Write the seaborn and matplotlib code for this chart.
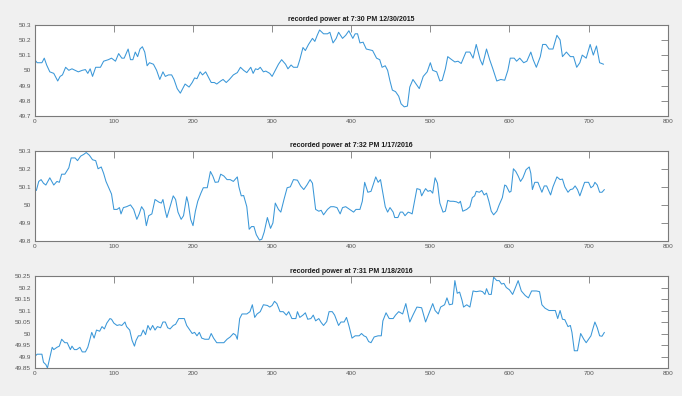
import matplotlib
matplotlib.use("Agg")
import matplotlib.pyplot as plt
import seaborn as sns
import pandas as pd

# Grid frequency samples for three recordings (sample index, Hz)
titles = [
    "recorded power at 7:30 PM 12/30/2015",
    "recorded power at 7:32 PM 1/17/2016",
    "recorded power at 7:31 PM 1/18/2016",
]

t1 = [0, 3, 9, 12, 15, 19, 24, 29, 32, 35, 39, 43, 47, 51, 55, 60, 64, 67, 70, 73,
      77, 83, 87, 93, 97, 102, 106, 110, 113, 118, 121, 124, 127, 130, 133, 136, 139, 142, 145, 150,
      154, 158, 162, 165, 169, 173, 176, 180, 184, 187, 190, 195, 199, 202, 205, 209, 212, 216, 220, 223,
      227, 230, 235, 238, 242, 246, 251, 256, 260, 264, 268, 273, 276, 279, 282, 285, 289, 292, 297, 300,
      304, 308, 312, 317, 320, 324, 327, 332, 335, 339, 342, 346, 351, 354, 357, 360, 365, 370, 373, 377,
      381, 384, 389, 393, 397, 402, 405, 408, 411, 415, 419, 423, 427, 432, 436, 439, 443, 446, 449, 452,
      456, 460, 463, 467, 471, 474, 478, 482, 486, 491, 496, 500, 503, 508, 512, 515, 519, 522, 527, 531,
      535, 539, 545, 550, 554, 558, 563, 566, 571, 575, 579, 584, 589, 594, 598, 601, 606, 609, 613, 618,
      622, 627, 630, 634, 639, 642, 646, 650, 655, 660, 664, 667, 672, 677, 681, 685, 689, 692, 697, 702,
      706, 710, 714, 719]
f1 = [50.07, 50.05, 50.05, 50.08, 50.035, 49.99, 49.98, 49.93, 49.96, 49.97, 50.02, 50.0, 50.01, 50.0, 49.99, 50.0, 50.005, 49.98, 50.01, 49.96,
      50.02, 50.02, 50.06, 50.07, 50.08, 50.06, 50.11, 50.08, 50.08, 50.14, 50.07, 50.07, 50.12, 50.09, 50.14, 50.155, 50.12, 50.03, 50.05, 50.04,
      50.0, 49.94, 49.99, 49.96, 49.97, 49.97, 49.94, 49.88, 49.85, 49.88, 49.91, 49.89, 49.92, 49.95, 49.945, 49.99, 49.97, 49.99, 49.95, 49.92,
      49.92, 49.91, 49.93, 49.94, 49.92, 49.94, 49.97, 49.985, 50.02, 50.0, 49.985, 50.02, 49.98, 50.01, 50.005, 50.02, 49.99, 49.995, 49.98, 49.96,
      50.0, 50.04, 50.07, 50.04, 50.01, 50.035, 50.02, 50.02, 50.07, 50.15, 50.13, 50.17, 50.21, 50.19, 50.23, 50.265, 50.24, 50.24, 50.25, 50.18,
      50.21, 50.25, 50.21, 50.23, 50.26, 50.21, 50.24, 50.24, 50.18, 50.185, 50.14, 50.135, 50.13, 50.08, 50.07, 50.02, 50.03, 50.0, 49.93, 49.87,
      49.86, 49.83, 49.78, 49.76, 49.765, 49.89, 49.94, 49.91, 49.88, 49.96, 49.99, 50.05, 50.0, 49.99, 49.93, 49.935, 50.01, 50.09, 50.07, 50.055,
      50.06, 50.045, 50.12, 50.12, 50.08, 50.17, 50.07, 50.035, 50.14, 50.07, 50.01, 49.93, 49.94, 49.935, 50.0, 50.08, 50.08, 50.06, 50.08, 50.05,
      50.06, 50.12, 50.07, 50.02, 50.09, 50.17, 50.17, 50.14, 50.14, 50.23, 50.2, 50.09, 50.12, 50.09, 50.09, 50.02, 50.05, 50.1, 50.08, 50.17,
      50.1, 50.16, 50.05, 50.04]

t2 = [0, 2, 5, 8, 11, 14, 19, 24, 28, 31, 34, 38, 43, 46, 51, 54, 58, 62, 65, 69,
      73, 77, 80, 84, 87, 90, 93, 97, 100, 104, 107, 109, 112, 116, 121, 125, 129, 132, 135, 138,
      141, 144, 148, 152, 157, 160, 162, 165, 167, 170, 175, 178, 181, 185, 188, 192, 194, 197, 200, 203,
      206, 210, 213, 218, 222, 225, 228, 232, 235, 239, 243, 247, 251, 256, 258, 261, 264, 268, 271, 274,
      277, 280, 284, 287, 290, 294, 298, 301, 304, 308, 311, 315, 319, 323, 327, 332, 336, 340, 344, 348,
      351, 355, 359, 362, 365, 370, 374, 378, 382, 386, 389, 393, 398, 403, 406, 411, 414, 417, 421, 425,
      431, 434, 437, 440, 443, 446, 449, 453, 455, 459, 462, 465, 468, 472, 475, 477, 480, 483, 487, 489,
      492, 494, 497, 500, 503, 506, 509, 512, 516, 519, 522, 525, 529, 533, 536, 538, 541, 546, 550, 553,
      556, 558, 562, 565, 568, 571, 574, 577, 580, 584, 587, 591, 594, 596, 600, 602, 605, 608, 611, 614,
      617, 621, 625, 627, 629, 632, 636, 641, 644, 647, 652, 655, 660, 664, 667, 670, 674, 677, 680, 683,
      686, 689, 692, 695, 700, 703, 706, 708, 711, 714, 717, 720]
f2 = [50.085, 50.08, 50.13, 50.14, 50.12, 50.11, 50.15, 50.11, 50.13, 50.125, 50.17, 50.17, 50.205, 50.26, 50.26, 50.245, 50.27, 50.28, 50.29, 50.275,
      50.25, 50.245, 50.2, 50.21, 50.175, 50.13, 50.1, 50.06, 49.975, 49.975, 49.985, 49.95, 49.985, 49.99, 50.0, 49.975, 49.92, 49.95, 49.99, 49.97,
      49.885, 49.94, 49.95, 50.03, 50.015, 50.01, 50.03, 49.965, 49.93, 49.975, 50.05, 50.03, 49.96, 49.92, 49.94, 50.045, 50.01, 49.92, 49.885, 49.965,
      50.02, 50.065, 50.095, 50.095, 50.185, 50.16, 50.125, 50.127, 50.17, 50.16, 50.14, 50.14, 50.13, 50.155, 50.1, 50.05, 50.052, 49.99, 49.865, 49.88,
      49.88, 49.835, 49.805, 49.81, 49.85, 49.93, 49.87, 49.9, 50.01, 49.975, 49.96, 50.03, 50.095, 50.1, 50.14, 50.137, 50.105, 50.085, 50.11, 50.14,
      50.12, 49.975, 49.965, 49.97, 49.945, 49.975, 49.99, 49.99, 49.985, 49.95, 49.985, 49.99, 49.975, 49.96, 49.975, 49.975, 50.02, 50.125, 50.07, 50.075,
      50.155, 50.125, 50.14, 50.065, 49.99, 49.96, 49.985, 49.96, 49.93, 49.93, 49.96, 49.96, 49.94, 49.96, 49.955, 49.95, 50.02, 50.09, 50.085, 50.05,
      50.075, 50.09, 50.075, 50.08, 50.065, 50.15, 50.12, 50.01, 49.96, 49.965, 50.025, 50.02, 50.02, 50.017, 50.01, 50.02, 49.965, 49.975, 49.99, 50.04,
      50.05, 50.075, 50.07, 50.08, 50.055, 50.065, 50.02, 49.965, 49.945, 49.965, 50.0, 50.04, 50.11, 50.105, 50.07, 50.075, 50.2, 50.185, 50.16, 50.13,
      50.15, 50.195, 50.21, 50.175, 50.085, 50.125, 50.125, 50.07, 50.105, 50.105, 50.055, 50.1, 50.155, 50.14, 50.143, 50.1, 50.07, 50.085, 50.088, 50.105,
      50.085, 50.05, 50.088, 50.125, 50.125, 50.095, 50.105, 50.125, 50.11, 50.07, 50.07, 50.085]

t3 = [0, 3, 9, 11, 14, 16, 19, 22, 24, 28, 31, 34, 38, 41, 45, 47, 50, 53, 57, 60,
      64, 67, 69, 72, 75, 78, 82, 85, 88, 91, 95, 97, 100, 104, 107, 110, 114, 116, 120, 123,
      126, 128, 131, 134, 137, 140, 143, 146, 149, 152, 155, 159, 162, 165, 168, 171, 175, 178, 182, 186,
      189, 192, 196, 199, 202, 205, 208, 211, 215, 220, 223, 226, 230, 235, 239, 243, 247, 251, 254, 256,
      259, 262, 268, 272, 275, 278, 281, 285, 289, 294, 297, 300, 303, 306, 310, 314, 318, 321, 325, 330,
      332, 335, 339, 342, 345, 349, 352, 355, 359, 362, 365, 369, 372, 376, 379, 384, 387, 391, 394, 397,
      401, 405, 410, 413, 416, 419, 422, 425, 429, 434, 438, 440, 444, 448, 453, 456, 460, 465, 469, 474,
      478, 483, 489, 494, 498, 503, 506, 510, 513, 518, 521, 524, 528, 531, 534, 537, 540, 542, 546, 550,
      554, 558, 563, 566, 569, 571, 574, 577, 580, 584, 587, 590, 593, 596, 600, 604, 607, 611, 615, 620,
      624, 628, 634, 638, 641, 645, 650, 654, 658, 661, 664, 667, 670, 674, 677, 679, 682, 686, 690, 694,
      697, 700, 703, 705, 708, 711, 714, 717, 720]
f3 = [49.9, 49.91, 49.91, 49.875, 49.865, 49.85, 49.895, 49.94, 49.93, 49.94, 49.945, 49.975, 49.96, 49.96, 49.93, 49.945, 49.93, 49.93, 49.94, 49.92,
      49.92, 49.94, 49.965, 50.005, 49.98, 50.015, 50.01, 50.03, 50.02, 50.045, 50.065, 50.062, 50.045, 50.035, 50.038, 50.035, 50.05, 50.03, 50.015, 49.97,
      49.945, 49.97, 49.99, 49.99, 50.015, 49.995, 50.035, 50.015, 50.035, 50.015, 50.03, 50.025, 50.05, 50.05, 50.025, 50.02, 50.035, 50.04, 50.065, 50.065,
      50.065, 50.035, 50.015, 50.0, 50.005, 49.99, 50.005, 49.98, 49.975, 49.975, 50.0, 49.98, 49.96, 49.96, 49.96, 49.975, 49.985, 50.0, 49.993, 49.975,
      50.065, 50.085, 50.085, 50.095, 50.125, 50.07, 50.085, 50.095, 50.125, 50.122, 50.115, 50.122, 50.14, 50.13, 50.095, 50.095, 50.08, 50.095, 50.065, 50.065,
      50.095, 50.07, 50.08, 50.09, 50.062, 50.065, 50.08, 50.055, 50.065, 50.048, 50.035, 50.052, 50.095, 50.095, 50.08, 50.035, 50.05, 50.05, 50.07, 50.035,
      49.98, 49.99, 49.99, 50.0, 49.99, 49.985, 49.965, 49.96, 49.985, 49.99, 49.99, 50.055, 50.09, 50.065, 50.065, 50.08, 50.095, 50.085, 50.13, 50.05,
      50.08, 50.115, 50.112, 50.05, 50.085, 50.13, 50.1, 50.085, 50.115, 50.125, 50.155, 50.125, 50.128, 50.23, 50.175, 50.18, 50.145, 50.115, 50.125, 50.115,
      50.185, 50.182, 50.185, 50.182, 50.17, 50.195, 50.17, 50.17, 50.245, 50.23, 50.23, 50.215, 50.218, 50.2, 50.19, 50.17, 50.195, 50.23, 50.185, 50.165,
      50.155, 50.185, 50.185, 50.182, 50.125, 50.11, 50.1, 50.1, 50.1, 50.065, 50.1, 50.062, 50.06, 50.03, 50.035, 50.005, 49.925, 49.925, 50.0, 49.975,
      49.96, 49.975, 49.99, 50.015, 50.05, 50.025, 49.99, 49.988, 50.005]

series = [(t1, f1), (t2, f2), (t3, f3)]
ylims = [(49.7, 50.3), (49.8, 50.3), (49.85, 50.25)]
yticks = [
    [49.7, 49.8, 49.9, 50.0, 50.1, 50.2, 50.3],
    [49.8, 49.9, 50.0, 50.1, 50.2, 50.3],
    [49.85, 49.9, 49.95, 50.0, 50.05, 50.1, 50.15, 50.2, 50.25],
]
xticks = [0, 100, 200, 300, 400, 500, 600, 700, 800]

sns.set_theme(style="white")
plt.rcParams["font.family"] = ["Liberation Sans", "DejaVu Sans"]

fig = plt.figure(figsize=(6.82, 3.96), dpi=100, facecolor="#f0f0f0")
positions = [
    [0.0510, 0.7071, 0.9280, 0.2306],
    [0.0510, 0.3914, 0.9280, 0.2280],
    [0.0510, 0.0707, 0.9280, 0.2323],
]

def fmt(v):
    s = f"{v:.2f}".rstrip("0").rstrip(".")
    return s

for (t, f), title, pos, yl, yt in zip(series, titles, positions, ylims, yticks):
    ax = fig.add_axes(pos)
    df = pd.DataFrame({"sample": t, "freq": f})
    sns.lineplot(data=df, x="sample", y="freq", ax=ax, color="#3a97d8",
                 linewidth=0.75, estimator=None, sort=False)
    ax.set_xlim(0, 800)
    ax.set_ylim(*yl)
    ax.set_xticks(xticks)
    ax.set_xticklabels([str(x) for x in xticks])
    ax.set_yticks(yt)
    ax.set_yticklabels([fmt(v) for v in yt])
    ax.set_xlabel("")
    ax.set_ylabel("")
    ax.set_facecolor("white")
    for sp in ax.spines.values():
        sp.set_visible(True)
        sp.set_color("#7a7a7a")
        sp.set_linewidth(0.8)
    ax.tick_params(axis="both", which="both", direction="in", length=5,
                   width=0.6, color="#7a7a7a", labelsize=4.6,
                   labelcolor="#555555", top=True, right=True, pad=2.5)
    ax.set_title(title, fontsize=5, fontweight="bold", color="#1a1a1a", pad=2.5)

fig.savefig("out.png", dpi=100, facecolor=fig.get_facecolor())
